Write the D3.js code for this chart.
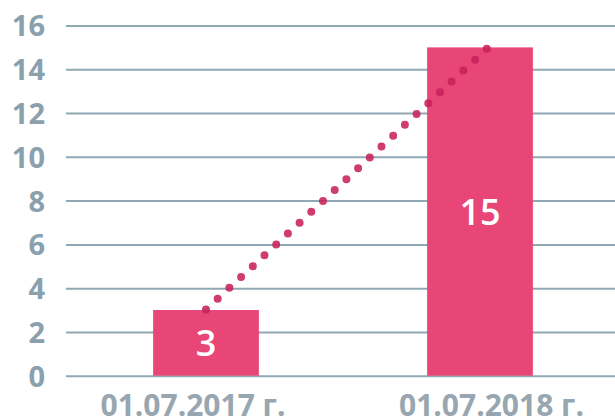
<!DOCTYPE html>
<html><head><meta charset="utf-8">
<script src="https://cdn.jsdelivr.net/npm/d3@7"></script>
<style>html,body{margin:0;padding:0;background:#fff;overflow:hidden}</style>
</head><body>
<svg id="c" width="615" height="418"></svg>
<script>
const categories = ["01.07.2017 г.", "01.07.2018 г."];
const values = [3, 15];
const barLabels = ["3", "15"];
const yTicks = [0, 2, 4, 6, 8, 10, 12, 14, 16];
// trend line points: [category index position, value]
const trendPos = [0, 1.026];
const trendVals = [3.02, 14.95];

const svg = d3.select("#c");
const font = "'Open Sans', 'Noto Sans', sans-serif";

const x = d3.scaleBand().domain(categories).range([69, 617]).paddingInner(0.614).paddingOuter(0.307);
const y = d3.scaleLinear().domain([0, 16]).range([375.7, 25.5]);
const xi = d3.scaleLinear().domain([0, 1])
  .range([x(categories[0]) + x.bandwidth() / 2, x(categories[1]) + x.bandwidth() / 2]);
const xLab = d3.scalePoint().domain(categories).range([192.5, 491]);

// gridlines
const yAxis = d3.axisLeft(y).tickValues(yTicks).tickSize(-549).tickPadding(21).tickFormat(d3.format("d"));
const gy = svg.append("g").attr("transform", "translate(66,0)").call(yAxis);
gy.select(".domain").remove();
gy.selectAll(".tick line").attr("stroke", "#8fa8b4").attr("stroke-width", 2);
gy.selectAll(".tick text").attr("fill", "#8aa0ad").attr("font-family", font)
  .attr("font-weight", 700).attr("font-size", 29).attr("dy", "0.36em");

// bars
svg.append("g").selectAll("rect").data(values).join("rect")
  .attr("x", (d, i) => x(categories[i]))
  .attr("width", x.bandwidth())
  .attr("y", d => y(d))
  .attr("height", d => y(0) - y(d))
  .attr("fill", "#e84677");

// dotted trend line
const line = d3.line().x(d => xi(d[0])).y(d => y(d[1]));
svg.append("path")
  .attr("d", line(trendPos.map((p, i) => [p, trendVals[i]])))
  .attr("fill", "none")
  .attr("stroke", "#c8215a")
  .attr("stroke-opacity", 0.88)
  .attr("stroke-width", 8)
  .attr("stroke-linecap", "round")
  .attr("pathLength", 24.03)
  .attr("stroke-dasharray", "0 1");

// bar labels
svg.append("g").selectAll("text").data(values).join("text")
  .attr("x", (d, i) => x(categories[i]) + x.bandwidth() / 2)
  .attr("y", d => (y(d) + y(0)) / 2)
  .attr("dy", "0.36em")
  .attr("text-anchor", "middle")
  .attr("fill", "#fff")
  .attr("font-family", font)
  .attr("font-weight", 600)
  .attr("font-size", 36)
  .text((d, i) => barLabels[i]);

// x axis labels
const xAxis = d3.axisBottom(xLab).tickSize(0).tickPadding(0);
const gx = svg.append("g").attr("transform", "translate(0,416)").call(xAxis);
gx.select(".domain").remove();
gx.selectAll(".tick text").attr("fill", "#97a6b0").attr("font-family", font)
  .attr("font-weight", 700).attr("font-size", 30).attr("dy", "0");
</script>
</body></html>
